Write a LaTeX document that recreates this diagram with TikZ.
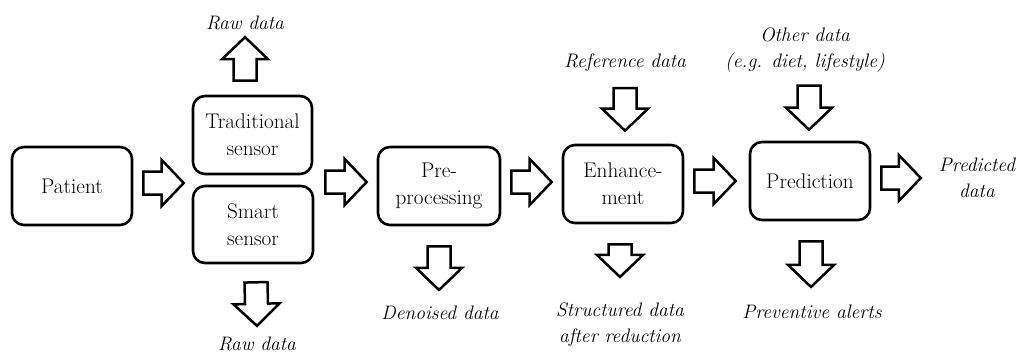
\documentclass[tikz,border=0pt]{standalone}
\usetikzlibrary{calc}

% hollow block arrow from #1 to #2
\newcommand\blockarr[2]{%
  \coordinate (bas) at (#1);
  \coordinate (bae) at (#2);
  \coordinate (bah) at ($(bae)!22pt!(bas)$);
  \draw[barrow] ($(bas)!11.5pt!90:(bae)$) -- ($(bah)!11.5pt!-90:(bas)$)
    -- ($(bah)!23pt!-90:(bas)$) -- (bae) -- ($(bah)!23pt!90:(bas)$)
    -- ($(bah)!11.5pt!90:(bas)$) -- ($(bas)!11.5pt!-90:(bae)$) -- cycle;}

\tikzset{
  stage/.style={draw, line width=2.6pt, rounded corners=12pt, align=center,
    minimum width=120pt, minimum height=78pt, inner sep=2pt,
    font=\fontsize{21.2}{27}\selectfont},
  note/.style={align=center, inner sep=1pt,
    font=\fontsize{19.5}{26}\selectfont\itshape},
  barrow/.style={draw, line width=2.5pt, line join=miter, fill=white}
}

\begin{document}
\begin{tikzpicture}[x=1pt, y=-1pt]
\useasboundingbox (0,0) rectangle (1017,354);

% processing stages
\node[stage] (pat)   at (72,186)    {Patient};
\node[stage, minimum width=119pt] (trad) at (252.5,135) {Traditional\\sensor};
\node[stage, minimum height=77pt] (smart) at (253,224.5) {Smart\\sensor};
\node[stage, minimum width=122pt] (pre) at (439,186) {Pre-\\processing};
\node[stage] (enh)   at (623,184)   {Enhance-\\ment};
\node[stage] (pred)  at (810,181)   {Prediction};

% data labels
\node[note] (rawup)  at (245,23)  {Raw data};
\node[note] (rawdn)  at (257,344) {Raw data};
\node[note] (refd)   at (625,63)  {Reference data};
\node[note] (other)  at (805,50)  {Other data\\(e.g. diet, lifestyle)};
\node[note] (denois) at (440,313) {Denoised data};
\node[note] (struct) at (620,325) {Structured data\\after reduction};
\node[note] (alerts) at (812,312) {Preventive alerts};
\node[note] (out)    at (977,178) {Predicted\\data};

% main flow
\blockarr{$(pat.east)+(10,-3)$}{$(trad.west |- 0,183)+(-8,0)$}
\blockarr{$(trad.east |- 0,182)+(12,0)$}{$(pre.west |- 0,182)+(-10,0)$}
\blockarr{$(pre.east |- 0,182)+(10,0)$}{$(enh.west |- 0,182)+(-10,0)$}
\blockarr{$(enh.east |- 0,181)+(10,0)$}{$(pred.west |- 0,181)+(-13,0)$}
\blockarr{$(pred.east |- 0,178)+(10,0)$}{$(out.west |- 0,178)+(-17,0)$}

% side inputs and outputs
\blockarr{$(trad.north)+(-7.5,-14)$}{$(rawup.south)+(0,6)$}
\blockarr{$(smart.south)+(3,18)$}{$(rawdn.north)+(0,-10)$}
\blockarr{$(refd.south)+(0,15)$}{$(enh.north)+(2,-13)$}
\blockarr{$(other.south)+(4,12)$}{$(pred.north)+(-1,-11)$}
\blockarr{$(pre.south)+(0,20)$}{$(denois.north)+(-1,-15)$}
\blockarr{$(enh.south)+(-3,20)$}{$(struct.north)+(0,-25)$}
\blockarr{$(pred.south)+(1,20)$}{$(alerts.north)+(-1,-17)$}
\end{tikzpicture}
\end{document}
